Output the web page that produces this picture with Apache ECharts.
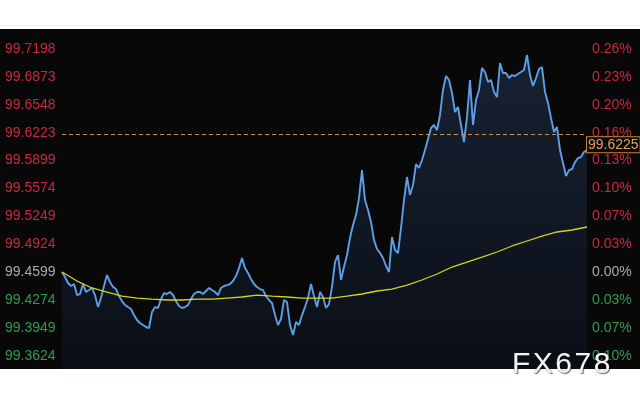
<!DOCTYPE html>
<html>
<head>
<meta charset="utf-8">
<script src="https://cdn.jsdelivr.net/npm/echarts@6/dist/echarts.min.js"></script>
<style>
  html, body { margin: 0; padding: 0; background: #ffffff; }
  #wrap { position: relative; width: 640px; height: 400px; overflow: hidden; }
  #topline { position: absolute; left: 0; top: 25px; width: 640px; height: 1px; background: #f0f0f0; }
  #bg { position: absolute; left: 0; top: 29px; width: 640px; height: 340px; background: #080808; }
  #chart { position: absolute; left: 0; top: 0; width: 640px; height: 400px; }
  #wm { position: absolute; left: 512px; top: 345px; font: 30px "Liberation Sans", Arial, sans-serif;
        letter-spacing: 2.5px; color: #f4f4f4; line-height: 36px;
        text-shadow: 1px 1px 1px rgba(0,0,0,0.55), 0 0 1px rgba(90,90,90,0.8); z-index: 5; }
</style>
</head>
<body>
<div id="wrap">
  <div id="topline"></div>
  <div id="bg"></div>
  <div id="chart"></div>
  <div id="wm">FX678</div>
</div>
<script>
// ---- data ----
const yTicks = [99.3624, 99.3949, 99.4274, 99.4599, 99.4924, 99.5249, 99.5574, 99.5899, 99.6223, 99.6548, 99.6873, 99.7198];
const pctLabels = ['0.10%', '0.07%', '0.03%', '0.00%', '0.03%', '0.07%', '0.10%', '0.13%', '0.16%', '0.20%', '0.23%', '0.26%'];
const basePrice = 99.4599;
const lastPrice = 99.6225;

const price = [
  99.4602, 99.4544, 99.4474, 99.4439, 99.4462, 99.4334, 99.4346, 99.4462, 99.4369, 99.4392,
  99.4416, 99.4334, 99.4194, 99.4299, 99.4439, 99.4567, 99.4485, 99.4427, 99.4404, 99.4322,
  99.4264, 99.4218, 99.4194, 99.4171, 99.4101, 99.4043, 99.4008, 99.3985, 99.3962, 99.3950,
  99.4136, 99.4194, 99.4183, 99.4287, 99.4357, 99.4346, 99.4369, 99.4334, 99.4264, 99.4206,
  99.4183, 99.4194, 99.4218, 99.4287, 99.4346, 99.4369, 99.4369, 99.4346, 99.4381, 99.4416,
  99.4392, 99.4369, 99.4334, 99.4416, 99.4439, 99.4450, 99.4462, 99.4497, 99.4555, 99.4648,
  99.4765, 99.4648, 99.4590, 99.4520, 99.4462, 99.4427, 99.4404, 99.4392, 99.4322, 99.4276,
  99.4241, 99.4101, 99.3985, 99.4055, 99.4276, 99.4253, 99.3985, 99.3868, 99.4020, 99.3985,
  99.4101, 99.4194, 99.4299, 99.4462, 99.4322, 99.4194, 99.4369, 99.4311, 99.4183, 99.4229,
  99.4427, 99.4718, 99.4800, 99.4509, 99.4660, 99.4800, 99.4998, 99.5149, 99.5265, 99.5463,
  99.5789, 99.5440, 99.5324, 99.5184, 99.4974, 99.4870, 99.4823, 99.4765, 99.4672, 99.4602,
  99.5009, 99.4858, 99.4823, 99.5114, 99.5440, 99.5708, 99.5498, 99.5615, 99.5859, 99.5813,
  99.5906, 99.6022, 99.6150, 99.6278, 99.6313, 99.6255, 99.6430, 99.6721, 99.6884, 99.6837,
  99.6686, 99.6465, 99.6523, 99.6313, 99.6115, 99.6406, 99.6837, 99.6313, 99.6604, 99.6721,
  99.6977, 99.6930, 99.6814, 99.6837, 99.6697, 99.6639, 99.7035, 99.6919, 99.6919, 99.6860,
  99.6895, 99.6884, 99.6907, 99.6930, 99.6954, 99.7128, 99.6895, 99.6767, 99.6860, 99.6965,
  99.6988, 99.6697, 99.6569, 99.6395, 99.6232, 99.6290, 99.6022, 99.5871, 99.5719, 99.5789,
  99.5801, 99.5882, 99.5929, 99.5941, 99.5999, 99.6022
];

const maStep = 5;
const movingAvg = [
  99.4602, 99.4497, 99.4416, 99.4369, 99.4322, 99.4299, 99.4287, 99.4276, 99.4276, 99.4287,
  99.4287, 99.4299, 99.4311, 99.4334, 99.4322, 99.4311, 99.4299, 99.4299, 99.4299, 99.4322,
  99.4346, 99.4381, 99.4404, 99.4450, 99.4509, 99.4579, 99.4660, 99.4718, 99.4776, 99.4835,
  99.4905, 99.4963, 99.5021, 99.5068, 99.5091, 99.5126
];

// ---- colours ----
const RED = '#c8283e', GREEN = '#2e9c50', GRAY = '#a9a9a9';
function tickColor(v) {
  if (Math.abs(v - basePrice) < 1e-6) return GRAY;
  return v > basePrice ? RED : GREEN;
}
function tickIndex(v) {
  let best = 0, bd = Infinity;
  yTicks.forEach((t, i) => { const d = Math.abs(t - v); if (d < bd) { bd = d; best = i; } });
  return best;
}

const yMin = 99.3473, yMax = 99.7431;

const chart = echarts.init(document.getElementById('chart'), null, { renderer: 'canvas' });
chart.setOption({
  backgroundColor: 'transparent',
  animation: false,
  grid: { left: 62, right: 53, top: 29, bottom: 31, containLabel: false },
  xAxis: {
    type: 'value', min: 0, max: price.length - 1,
    show: false
  },
  yAxis: [
    {
      type: 'value', position: 'left', min: yMin, max: yMax, scale: true,
      axisLine: { show: false }, axisTick: { show: false }, splitLine: { show: false },
      axisLabel: {
        customValues: yTicks,
        showMinLabel: true, showMaxLabel: true,
        align: 'left', margin: 57,
        fontFamily: 'Liberation Sans, Arial, sans-serif', fontSize: 14,
        color: (v) => tickColor(v),
        formatter: (v) => yTicks[tickIndex(v)].toFixed(4)
      }
    },
    {
      type: 'value', position: 'right', min: yMin, max: yMax, scale: true,
      axisLine: { show: false }, axisTick: { show: false }, splitLine: { show: false },
      axisLabel: {
        customValues: yTicks,
        showMinLabel: true, showMaxLabel: true,
        align: 'left', margin: 5,
        fontFamily: 'Liberation Sans, Arial, sans-serif', fontSize: 14,
        color: (v) => tickColor(v),
        formatter: (v) => pctLabels[tickIndex(v)]
      }
    }
  ],
  series: [
    {
      type: 'line', name: 'price', yAxisIndex: 0,
      data: price.map((v, i) => [i, v]),
      showSymbol: false, symbol: 'none',
      lineStyle: { color: '#5d9fe6', width: 1.9 },
      areaStyle: {
        origin: 'start',
        color: new echarts.graphic.LinearGradient(0, 0, 0, 1, [
          { offset: 0, color: '#1f2d46' },
          { offset: 1, color: '#0c121c' }
        ])
      },
      z: 3,
      markLine: {
        silent: true, symbol: 'none',
        lineStyle: { color: '#d38a45', type: [4, 3], width: 1 },
        label: {
          position: 'end', distance: 0,
          formatter: '{e| }\n{b|' + lastPrice.toFixed(4) + '}',
          rich: {
            e: { lineHeight: 20, fontSize: 2 },
            b: {
              color: '#e3a45a', fontSize: 14, fontFamily: 'Liberation Sans, Arial, sans-serif',
              backgroundColor: '#080808', borderColor: '#c98338', borderWidth: 1,
              padding: [1, 1, 0, 1], lineHeight: 16
            }
          }
        },
        data: [{ yAxis: lastPrice }]
      }
    },
    {
      type: 'line', name: 'ma', yAxisIndex: 0,
      data: movingAvg.map((v, k) => [k * maStep, v]),
      showSymbol: false, symbol: 'none',
      lineStyle: { color: '#d6d21e', width: 1.3 },
      z: 4
    }
  ]
});
</script>
</body>
</html>
